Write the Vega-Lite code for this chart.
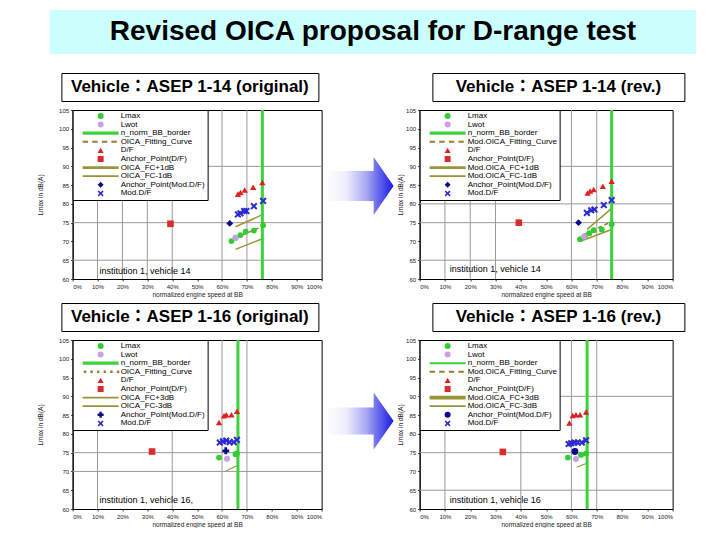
{
"$schema": "https://vega.github.io/schema/vega-lite/v6.json",
"padding": {"left": 37, "top": 10, "right": 0, "bottom": 0},
"background": "white",
"spacing": 18,
"center": true,
"resolve": {"scale": {"color": "independent", "shape": "independent", "size": "independent"}, "legend": {"color": "independent", "shape": "independent"}},
"datasets": {
"TL": [
{"k":"p","s":"Lmax","x":63.8,"y":70.1},{"k":"p","s":"Lmax","x":65.5,"y":71.0},{"k":"p","s":"Lmax","x":67.4,"y":71.7},{"k":"p","s":"Lmax","x":69.5,"y":72.6},{"k":"p","s":"Lmax","x":72.8,"y":72.9},{"k":"p","s":"Lmax","x":76.5,"y":74.3},
{"k":"p","s":"Lwot","x":65.4,"y":71.0},
{"k":"p","s":"D/F","x":66.4,"y":82.6},{"k":"p","s":"D/F","x":67.4,"y":83.0},{"k":"p","s":"D/F","x":69.1,"y":83.7},{"k":"p","s":"D/F","x":72.5,"y":84.4},{"k":"p","s":"D/F","x":76.2,"y":85.7},
{"k":"p","s":"Anchor_Point(D/F)","x":39.3,"y":74.7},
{"k":"p","s":"Anchor_Point(Mod.D/F)","x":63.1,"y":74.8},
{"k":"p","s":"Mod.D/F","x":66.4,"y":77.2},{"k":"p","s":"Mod.D/F","x":67.4,"y":77.5},{"k":"p","s":"Mod.D/F","x":68.9,"y":78.1},{"k":"p","s":"Mod.D/F","x":69.8,"y":78.1},{"k":"p","s":"Mod.D/F","x":72.8,"y":79.4},{"k":"p","s":"Mod.D/F","x":76.5,"y":80.8},
{"k":"l","s":"OICA_FC+1dB","x":65.4,"y":73.9},{"k":"l","s":"OICA_FC+1dB","x":76.5,"y":77.2},
{"k":"l","s":"OICA_FC-1dB","x":65.4,"y":67.9},{"k":"l","s":"OICA_FC-1dB","x":76.5,"y":70.8},
{"k":"d","s":"OICA_Fitting_Curve","x":65.4,"y":70.9},{"k":"d","s":"OICA_Fitting_Curve","x":76.5,"y":74.1},
{"k":"b","s":"n_norm_BB_border","x":76.2},
{"k":"t","x":10.8,"y":62.2,"t":"institution 1, vehicle 14"}
],
"gTL": [{"g":"x","v":10},{"g":"x","v":20},{"g":"x","v":30},{"g":"x","v":40},{"g":"x","v":60},{"g":"x","v":70},{"g":"y","v":65},{"g":"y","v":75},{"g":"y","v":90}],
"TR": [
{"k":"p","s":"Lmax","x":63.4,"y":70.6},{"k":"p","s":"Lmax","x":65.5,"y":71.5},{"k":"p","s":"Lmax","x":67.1,"y":72.2},{"k":"p","s":"Lmax","x":68.8,"y":73.0},{"k":"p","s":"Lmax","x":72.0,"y":73.2},{"k":"p","s":"Lmax","x":75.9,"y":74.6},
{"k":"p","s":"Lwot","x":65.1,"y":71.3},
{"k":"p","s":"D/F","x":66.4,"y":82.9},{"k":"p","s":"D/F","x":67.4,"y":83.4},{"k":"p","s":"D/F","x":68.8,"y":83.8},{"k":"p","s":"D/F","x":72.4,"y":84.7},{"k":"p","s":"D/F","x":75.9,"y":86.0},
{"k":"p","s":"Anchor_Point(D/F)","x":39.2,"y":75.0},
{"k":"p","s":"Anchor_Point(Mod.D/F)","x":62.8,"y":75.0},
{"k":"p","s":"Mod.D/F","x":66.1,"y":77.6},{"k":"p","s":"Mod.D/F","x":67.8,"y":78.3},{"k":"p","s":"Mod.D/F","x":69.1,"y":78.5},{"k":"p","s":"Mod.D/F","x":72.8,"y":79.7},{"k":"p","s":"Mod.D/F","x":75.9,"y":81.0},
{"k":"l","s":"Mod.OICA_FC+1dB","x":66.2,"y":73.2},{"k":"l","s":"Mod.OICA_FC+1dB","x":75.9,"y":78.8},
{"k":"l","s":"Mod.OICA_FC-1dB","x":63.8,"y":70.1},{"k":"l","s":"Mod.OICA_FC-1dB","x":75.9,"y":73.2},
{"k":"d","s":"Mod.OICA_Fitting_Curve","x":65.5,"y":72.0},{"k":"d","s":"Mod.OICA_Fitting_Curve","x":75.9,"y":75.3},
{"k":"b","s":"n_norm_BB_border","x":75.9},
{"k":"t","x":11.9,"y":62.7,"t":"institution 1, vehicle 14"}
],
"gTR": [{"g":"x","v":10},{"g":"x","v":20},{"g":"x","v":30},{"g":"x","v":60},{"g":"x","v":70},{"g":"y","v":65},{"g":"y","v":75},{"g":"y","v":80},{"g":"y","v":90}],
"BL": [
{"k":"p","s":"Lmax","x":58.8,"y":73.7},{"k":"p","s":"Lmax","x":65.4,"y":74.6},{"k":"p","s":"Lmax","x":66.0,"y":74.8},
{"k":"p","s":"Lwot","x":62.0,"y":73.4},
{"k":"p","s":"D/F","x":58.8,"y":83.0},{"k":"p","s":"D/F","x":60.8,"y":84.8},{"k":"p","s":"D/F","x":61.7,"y":85.1},{"k":"p","s":"D/F","x":63.8,"y":85.1},{"k":"p","s":"D/F","x":66.0,"y":86.0},
{"k":"p","s":"Anchor_Point(D/F)","x":31.9,"y":75.3},
{"k":"p","s":"Anchor_Point(Mod.D/F)","x":61.5,"y":75.5},
{"k":"p","s":"Mod.D/F","x":59.1,"y":77.7},{"k":"p","s":"Mod.D/F","x":60.4,"y":78.0},{"k":"p","s":"Mod.D/F","x":61.7,"y":78.2},{"k":"p","s":"Mod.D/F","x":63.1,"y":77.8},{"k":"p","s":"Mod.D/F","x":64.7,"y":77.8},{"k":"p","s":"Mod.D/F","x":66.0,"y":78.4},
{"k":"l","s":"OICA_FC-3dB","x":61.7,"y":70.2},{"k":"l","s":"OICA_FC-3dB","x":66.0,"y":71.5},
{"k":"b","s":"n_norm_BB_border","x":66.4},
{"k":"t","x":10.8,"y":62.5,"t":"institution 1, vehicle 16,"}
],
"gBL": [{"g":"x","v":10},{"g":"x","v":40},{"g":"x","v":60},{"g":"x","v":70},{"g":"y","v":70},{"g":"y","v":75}],
"BR": [
{"k":"p","s":"Lmax","x":58.6,"y":73.7},{"k":"p","s":"Lmax","x":63.8,"y":74.4},{"k":"p","s":"Lmax","x":65.8,"y":74.8},
{"k":"p","s":"Lwot","x":61.8,"y":73.3},
{"k":"p","s":"D/F","x":59.2,"y":82.9},{"k":"p","s":"D/F","x":60.5,"y":84.9},{"k":"p","s":"D/F","x":61.8,"y":85.1},{"k":"p","s":"D/F","x":63.4,"y":85.1},{"k":"p","s":"D/F","x":65.8,"y":85.8},
{"k":"p","s":"Anchor_Point(D/F)","x":32.9,"y":75.2},
{"k":"p","s":"Anchor_Point(Mod.D/F)","x":61.4,"y":75.3},
{"k":"p","s":"Mod.D/F","x":58.9,"y":77.3},{"k":"p","s":"Mod.D/F","x":59.9,"y":77.5},{"k":"p","s":"Mod.D/F","x":61.2,"y":77.7},{"k":"p","s":"Mod.D/F","x":62.5,"y":77.7},{"k":"p","s":"Mod.D/F","x":64.1,"y":77.7},{"k":"p","s":"Mod.D/F","x":65.8,"y":78.3},
{"k":"l","s":"Mod.OICA_FC-3dB","x":62.1,"y":71.1},{"k":"l","s":"Mod.OICA_FC-3dB","x":65.8,"y":72.1},
{"k":"b","s":"n_norm_BB_border","x":66.2},
{"k":"t","x":11.9,"y":62.3,"t":"institution 1, vehicle 16"}
],
"gBR": [{"g":"x","v":10},{"g":"x","v":40},{"g":"x","v":60},{"g":"x","v":70},{"g":"y","v":65},{"g":"y","v":75},{"g":"y","v":90}]
},
"vconcat": [
{"width": 646, "height": 44, "view": {"fill": "#CCFFFF", "stroke": null},
 "data": {"values": [{"t": "Revised OICA proposal for D-range test"}]},
 "mark": {"type": "text", "fontSize": 28, "fontWeight": "bold", "font": "Liberation Sans", "color": "black", "baseline": "middle", "align": "center"},
 "encoding": {"text": {"field": "t"}}},
{"spacing": 4, "center": true,
 "resolve": {"scale": {"color": "independent", "shape": "independent", "size": "independent"}, "legend": {"color": "independent", "shape": "independent"}},
 "vconcat": [
 {"spacing": 112, "hconcat": [
  {"width": 257, "height": 28, "view": {"stroke": "black", "strokeWidth": 1, "fill": "white"},
   "data": {"values": [{"t": "Vehicle：ASEP 1-14 (original)"}]},
   "mark": {"type": "text", "fontSize": 17, "fontWeight": "bold", "font": "Liberation Sans, Noto Sans CJK JP", "color": "black", "baseline": "middle", "align": "center"},
   "encoding": {"text": {"field": "t"}}},
  {"width": 252, "height": 28, "view": {"stroke": "black", "strokeWidth": 1, "fill": "white"},
   "data": {"values": [{"t": "Vehicle：ASEP 1-14 (rev.)"}]},
   "mark": {"type": "text", "fontSize": 17, "fontWeight": "bold", "font": "Liberation Sans, Noto Sans CJK JP", "color": "black", "baseline": "middle", "align": "center"},
   "encoding": {"text": {"field": "t"}}}
 ]},
 {"spacing": 3,
  "resolve": {"scale": {"color": "independent", "shape": "independent", "size": "independent"}, "legend": {"color": "independent", "shape": "independent"}},
  "hconcat": [
  {"width": 249, "height": 169, "data": {"name": "TL"},
   "layer": [
    {"data": {"name": "gTL"}, "transform": [{"filter": "datum.g == 'x'"}], "mark": {"type": "rule", "color": "#999999", "strokeWidth": 1}, "encoding": {"x": {"field": "v", "type": "quantitative", "title": "normalized engine speed at BB", "scale": {"domain": [0,100], "nice": false}}}},
    {"data": {"name": "gTL"}, "transform": [{"filter": "datum.g == 'y'"}], "mark": {"type": "rule", "color": "#999999", "strokeWidth": 1}, "encoding": {"y": {"field": "v", "type": "quantitative", "title": "Lmax in dB(A)", "scale": {"domain": [60,105], "nice": false}}}},
    {"transform": [{"filter": "datum.k == 'l'"}], "mark": {"type": "line", "strokeWidth": 1.5, "color": "#9A9436"}, "encoding": {
      "x": {"field": "x", "type": "quantitative", "title": "normalized engine speed at BB", "scale": {"domain": [0,100], "nice": false}},
      "y": {"field": "y", "type": "quantitative", "title": "Lmax in dB(A)", "scale": {"domain": [60,105], "nice": false}},
      "detail": {"field": "s"}}},
    {"transform": [{"filter": "datum.k == 'd'"}], "mark": {"type": "line", "strokeWidth": 1.5, "strokeDash": [4,3], "color": "#9C7A30"}, "encoding": {
      "x": {"field": "x", "type": "quantitative", "title": "normalized engine speed at BB", "scale": {"domain": [0,100], "nice": false}},
      "y": {"field": "y", "type": "quantitative", "title": "Lmax in dB(A)", "scale": {"domain": [60,105], "nice": false}}}},
    {"transform": [{"filter": "datum.k == 'b'"}], "mark": {"type": "rule", "strokeWidth": 3, "color": "#3BD33B"}, "encoding": {
      "x": {"field": "x", "type": "quantitative", "title": "normalized engine speed at BB", "scale": {"domain": [0,100], "nice": false}}}},
    {"transform": [{"filter": "datum.k == 'p'"}], "mark": {"type": "point", "filled": true, "opacity": 1, "strokeWidth": 0}, "encoding": {
      "x": {"field": "x", "type": "quantitative", "title": "normalized engine speed at BB", "scale": {"domain": [0,100], "nice": false}},
      "y": {"field": "y", "type": "quantitative", "title": "Lmax in dB(A)", "scale": {"domain": [60,105], "nice": false}, "axis": {"titlePadding": 15}},
      "color": {"field": "s", "type": "nominal", "legend": {"title": null}, "scale": {"domain": ["Lmax","Lwot","n_norm_BB_border","OICA_Fitting_Curve","D/F","Anchor_Point(D/F)","OICA_FC+1dB","OICA_FC-1dB","Anchor_Point(Mod.D/F)","Mod.D/F"], "range": ["#33CC33","#C9A0E6","#3BD33B","#9C7A30","#E02020","#DD2B2B","#9A9436","#9A9436","#0A0A8C","#2B2BD0"]}},
      "shape": {"field": "s", "type": "nominal", "legend": {"title": null}, "scale": {"domain": ["Lmax","Lwot","n_norm_BB_border","OICA_Fitting_Curve","D/F","Anchor_Point(D/F)","OICA_FC+1dB","OICA_FC-1dB","Anchor_Point(Mod.D/F)","Mod.D/F"], "range": ["circle","circle","M-6,-0.55L6,-0.55L6,0.55L-6,0.55Z","M-6,-0.35L-4.2,-0.35L-4.2,0.35L-6,0.35Z M-2.8,-0.35L-1,-0.35L-1,0.35L-2.8,0.35Z M0.4,-0.35L2.2,-0.35L2.2,0.35L0.4,0.35Z M3.6,-0.35L5.4,-0.35L5.4,0.35L3.6,0.35Z","triangle-up","square","M-6,-0.45L6,-0.45L6,0.45L-6,0.45Z","M-6,-0.3L6,-0.3L6,0.3L-6,0.3Z","diamond","M-1,-0.6L-0.6,-1L0,-0.4L0.6,-1L1,-0.6L0.4,0L1,0.6L0.6,1L0,0.4L-0.6,1L-1,0.6L-0.4,0Z"]}},
      "size": {"field": "s", "type": "nominal", "legend": null, "scale": {"domain": ["Lmax","Lwot","D/F","Anchor_Point(D/F)","Anchor_Point(Mod.D/F)","Mod.D/F"], "range": [34,50,22,64,45,30]}}}},
    {"transform": [{"filter": "datum.k == 't'"}], "mark": {"type": "text", "align": "left", "baseline": "middle", "fontSize": 9, "font": "Liberation Sans", "color": "black"}, "encoding": {
      "x": {"field": "x", "type": "quantitative", "title": "normalized engine speed at BB", "scale": {"domain": [0,100], "nice": false}},
      "y": {"field": "y", "type": "quantitative", "title": "Lmax in dB(A)", "scale": {"domain": [60,105], "nice": false}},
      "text": {"field": "t"}}}
   ]},
  {"width": 68, "height": 152, "view": {"stroke": null}, "data": {"values": [{"a": 1}]},
   "mark": {"type": "point", "shape": "M-1.133,-0.5L0.467,-0.5L0.467,-0.967L1.133,0L0.467,0.967L0.467,0.5L-1.133,0.5Z", "size": 3600, "filled": true, "opacity": 1, "strokeWidth": 0,
     "fill": {"gradient": "linear", "x1": 0, "y1": 0, "x2": 1, "y2": 0, "stops": [{"offset": 0, "color": "#FFFFFF"}, {"offset": 0.3, "color": "#EEEEFD"}, {"offset": 0.6, "color": "#A8A8F4"}, {"offset": 0.75, "color": "#7070EE"}, {"offset": 1, "color": "#1A1AE6"}]}},
   "encoding": {}},
  {"width": 253, "height": 169, "data": {"name": "TR"},
   "layer": [
    {"data": {"name": "gTR"}, "transform": [{"filter": "datum.g == 'x'"}], "mark": {"type": "rule", "color": "#999999", "strokeWidth": 1}, "encoding": {"x": {"field": "v", "type": "quantitative", "title": "normalized engine speed at BB", "scale": {"domain": [0,100], "nice": false}}}},
    {"data": {"name": "gTR"}, "transform": [{"filter": "datum.g == 'y'"}], "mark": {"type": "rule", "color": "#999999", "strokeWidth": 1}, "encoding": {"y": {"field": "v", "type": "quantitative", "title": "Lmax in dB(A)", "scale": {"domain": [60,105], "nice": false}}}},
    {"transform": [{"filter": "datum.k == 'l'"}], "mark": {"type": "line", "strokeWidth": 1.5, "color": "#9A9436"}, "encoding": {
      "x": {"field": "x", "type": "quantitative", "title": "normalized engine speed at BB", "scale": {"domain": [0,100], "nice": false}},
      "y": {"field": "y", "type": "quantitative", "title": "Lmax in dB(A)", "scale": {"domain": [60,105], "nice": false}},
      "detail": {"field": "s"}}},
    {"transform": [{"filter": "datum.k == 'd'"}], "mark": {"type": "line", "strokeWidth": 1.5, "strokeDash": [4,3], "color": "#9C7A30"}, "encoding": {
      "x": {"field": "x", "type": "quantitative", "title": "normalized engine speed at BB", "scale": {"domain": [0,100], "nice": false}},
      "y": {"field": "y", "type": "quantitative", "title": "Lmax in dB(A)", "scale": {"domain": [60,105], "nice": false}}}},
    {"transform": [{"filter": "datum.k == 'b'"}], "mark": {"type": "rule", "strokeWidth": 3, "color": "#3BD33B"}, "encoding": {
      "x": {"field": "x", "type": "quantitative", "title": "normalized engine speed at BB", "scale": {"domain": [0,100], "nice": false}}}},
    {"transform": [{"filter": "datum.k == 'p'"}], "mark": {"type": "point", "filled": true, "opacity": 1, "strokeWidth": 0}, "encoding": {
      "x": {"field": "x", "type": "quantitative", "title": "normalized engine speed at BB", "scale": {"domain": [0,100], "nice": false}},
      "y": {"field": "y", "type": "quantitative", "title": "Lmax in dB(A)", "scale": {"domain": [60,105], "nice": false}},
      "color": {"field": "s", "type": "nominal", "legend": {"title": null}, "scale": {"domain": ["Lmax","Lwot","n_norm_BB_border","Mod.OICA_Fitting_Curve","D/F","Anchor_Point(D/F)","Mod.OICA_FC+1dB","Mod.OICA_FC-1dB","Anchor_Point(Mod.D/F)","Mod.D/F"], "range": ["#33CC33","#C9A0E6","#3BD33B","#9C7A30","#E02020","#DD2B2B","#9A9436","#9A9436","#0A0A8C","#2B2BD0"]}},
      "shape": {"field": "s", "type": "nominal", "legend": {"title": null}, "scale": {"domain": ["Lmax","Lwot","n_norm_BB_border","Mod.OICA_Fitting_Curve","D/F","Anchor_Point(D/F)","Mod.OICA_FC+1dB","Mod.OICA_FC-1dB","Anchor_Point(Mod.D/F)","Mod.D/F"], "range": ["circle","circle","M-6,-0.55L6,-0.55L6,0.55L-6,0.55Z","M-6,-0.35L-4.2,-0.35L-4.2,0.35L-6,0.35Z M-2.8,-0.35L-1,-0.35L-1,0.35L-2.8,0.35Z M0.4,-0.35L2.2,-0.35L2.2,0.35L0.4,0.35Z M3.6,-0.35L5.4,-0.35L5.4,0.35L3.6,0.35Z","triangle-up","square","M-6,-0.45L6,-0.45L6,0.45L-6,0.45Z","M-6,-0.3L6,-0.3L6,0.3L-6,0.3Z","diamond","M-1,-0.6L-0.6,-1L0,-0.4L0.6,-1L1,-0.6L0.4,0L1,0.6L0.6,1L0,0.4L-0.6,1L-1,0.6L-0.4,0Z"]}},
      "size": {"field": "s", "type": "nominal", "legend": null, "scale": {"domain": ["Lmax","Lwot","D/F","Anchor_Point(D/F)","Anchor_Point(Mod.D/F)","Mod.D/F"], "range": [34,50,22,64,45,30]}}}},
    {"transform": [{"filter": "datum.k == 't'"}], "mark": {"type": "text", "align": "left", "baseline": "middle", "fontSize": 9, "font": "Liberation Sans", "color": "black"}, "encoding": {
      "x": {"field": "x", "type": "quantitative", "title": "normalized engine speed at BB", "scale": {"domain": [0,100], "nice": false}},
      "y": {"field": "y", "type": "quantitative", "title": "Lmax in dB(A)", "scale": {"domain": [60,105], "nice": false}},
      "text": {"field": "t"}}}
   ]}
 ]},
 {"spacing": 112, "hconcat": [
  {"width": 257, "height": 28, "view": {"stroke": "black", "strokeWidth": 1, "fill": "white"},
   "data": {"values": [{"t": "Vehicle：ASEP 1-16 (original)"}]},
   "mark": {"type": "text", "fontSize": 17, "fontWeight": "bold", "font": "Liberation Sans, Noto Sans CJK JP", "color": "black", "baseline": "middle", "align": "center"},
   "encoding": {"text": {"field": "t"}}},
  {"width": 252, "height": 28, "view": {"stroke": "black", "strokeWidth": 1, "fill": "white"},
   "data": {"values": [{"t": "Vehicle：ASEP 1-16 (rev.)"}]},
   "mark": {"type": "text", "fontSize": 17, "fontWeight": "bold", "font": "Liberation Sans, Noto Sans CJK JP", "color": "black", "baseline": "middle", "align": "center"},
   "encoding": {"text": {"field": "t"}}}
 ]},
 {"spacing": 3,
  "resolve": {"scale": {"color": "independent", "shape": "independent", "size": "independent"}, "legend": {"color": "independent", "shape": "independent"}},
  "hconcat": [
  {"width": 249, "height": 169, "data": {"name": "BL"},
   "layer": [
    {"data": {"name": "gBL"}, "transform": [{"filter": "datum.g == 'x'"}], "mark": {"type": "rule", "color": "#999999", "strokeWidth": 1}, "encoding": {"x": {"field": "v", "type": "quantitative", "title": "normalized engine speed at BB", "scale": {"domain": [0,100], "nice": false}}}},
    {"data": {"name": "gBL"}, "transform": [{"filter": "datum.g == 'y'"}], "mark": {"type": "rule", "color": "#999999", "strokeWidth": 1}, "encoding": {"y": {"field": "v", "type": "quantitative", "title": "Lmax in dB(A)", "scale": {"domain": [60,105], "nice": false}}}},
    {"transform": [{"filter": "datum.k == 'l'"}], "mark": {"type": "line", "strokeWidth": 1.2, "color": "#9A9436"}, "encoding": {
      "x": {"field": "x", "type": "quantitative", "title": "normalized engine speed at BB", "scale": {"domain": [0,100], "nice": false}},
      "y": {"field": "y", "type": "quantitative", "title": "Lmax in dB(A)", "scale": {"domain": [60,105], "nice": false}},
      "detail": {"field": "s"}}},
    {"transform": [{"filter": "datum.k == 'b'"}], "mark": {"type": "rule", "strokeWidth": 3, "color": "#3BD33B"}, "encoding": {
      "x": {"field": "x", "type": "quantitative", "title": "normalized engine speed at BB", "scale": {"domain": [0,100], "nice": false}}}},
    {"transform": [{"filter": "datum.k == 'p'"}], "mark": {"type": "point", "filled": true, "opacity": 1, "strokeWidth": 0}, "encoding": {
      "x": {"field": "x", "type": "quantitative", "title": "normalized engine speed at BB", "scale": {"domain": [0,100], "nice": false}},
      "y": {"field": "y", "type": "quantitative", "title": "Lmax in dB(A)", "scale": {"domain": [60,105], "nice": false}, "axis": {"titlePadding": 15}},
      "color": {"field": "s", "type": "nominal", "legend": {"title": null}, "scale": {"domain": ["Lmax","Lwot","n_norm_BB_border","OICA_Fitting_Curve","D/F","Anchor_Point(D/F)","OICA_FC+3dB","OICA_FC-3dB","Anchor_Point(Mod.D/F)","Mod.D/F"], "range": ["#33CC33","#C9A0E6","#3BD33B","#9C7A30","#E02020","#DD2B2B","#9A9436","#9A9436","#0A0A8C","#2B2BD0"]}},
      "shape": {"field": "s", "type": "nominal", "legend": {"title": null}, "scale": {"domain": ["Lmax","Lwot","n_norm_BB_border","OICA_Fitting_Curve","D/F","Anchor_Point(D/F)","OICA_FC+3dB","OICA_FC-3dB","Anchor_Point(Mod.D/F)","Mod.D/F"], "range": ["circle","circle","M-6,-0.55L6,-0.55L6,0.55L-6,0.55Z","M-5.6,-0.4L-4.8,-0.4L-4.8,0.4L-5.6,0.4Z M-3.4,-0.4L-2.6,-0.4L-2.6,0.4L-3.4,0.4Z M-1.2,-0.4L-0.4,-0.4L-0.4,0.4L-1.2,0.4Z M1,-0.4L1.8,-0.4L1.8,0.4L1,0.4Z M3.2,-0.4L4,-0.4L4,0.4L3.2,0.4Z M5.4,-0.4L6.2,-0.4L6.2,0.4L5.4,0.4Z","triangle-up","square","M-6,-0.3L6,-0.3L6,0.3L-6,0.3Z","M-6,-0.3L6,-0.3L6,0.3L-6,0.3Z","cross","M-1,-0.6L-0.6,-1L0,-0.4L0.6,-1L1,-0.6L0.4,0L1,0.6L0.6,1L0,0.4L-0.6,1L-1,0.6L-0.4,0Z"]}},
      "size": {"field": "s", "type": "nominal", "legend": null, "scale": {"domain": ["Lmax","Lwot","D/F","Anchor_Point(D/F)","Anchor_Point(Mod.D/F)","Mod.D/F"], "range": [34,50,22,64,45,30]}}}},
    {"transform": [{"filter": "datum.k == 't'"}], "mark": {"type": "text", "align": "left", "baseline": "middle", "fontSize": 9, "font": "Liberation Sans", "color": "black"}, "encoding": {
      "x": {"field": "x", "type": "quantitative", "title": "normalized engine speed at BB", "scale": {"domain": [0,100], "nice": false}},
      "y": {"field": "y", "type": "quantitative", "title": "Lmax in dB(A)", "scale": {"domain": [60,105], "nice": false}},
      "text": {"field": "t"}}}
   ]},
  {"width": 68, "height": 162, "view": {"stroke": null}, "data": {"values": [{"a": 1}]},
   "mark": {"type": "point", "shape": "M-1.133,-0.45L0.467,-0.45L0.467,-0.95L1.133,0L0.467,0.95L0.467,0.45L-1.133,0.45Z", "size": 3600, "filled": true, "opacity": 1, "strokeWidth": 0,
     "fill": {"gradient": "linear", "x1": 0, "y1": 0, "x2": 1, "y2": 0, "stops": [{"offset": 0, "color": "#FFFFFF"}, {"offset": 0.3, "color": "#EEEEFD"}, {"offset": 0.6, "color": "#A8A8F4"}, {"offset": 0.75, "color": "#7070EE"}, {"offset": 1, "color": "#1A1AE6"}]}},
   "encoding": {}},
  {"width": 253, "height": 169, "data": {"name": "BR"},
   "layer": [
    {"data": {"name": "gBR"}, "transform": [{"filter": "datum.g == 'x'"}], "mark": {"type": "rule", "color": "#999999", "strokeWidth": 1}, "encoding": {"x": {"field": "v", "type": "quantitative", "title": "normalized engine speed at BB", "scale": {"domain": [0,100], "nice": false}}}},
    {"data": {"name": "gBR"}, "transform": [{"filter": "datum.g == 'y'"}], "mark": {"type": "rule", "color": "#999999", "strokeWidth": 1}, "encoding": {"y": {"field": "v", "type": "quantitative", "title": "Lmax in dB(A)", "scale": {"domain": [60,105], "nice": false}}}},
    {"transform": [{"filter": "datum.k == 'l'"}], "mark": {"type": "line", "strokeWidth": 1.2, "color": "#9A9436"}, "encoding": {
      "x": {"field": "x", "type": "quantitative", "title": "normalized engine speed at BB", "scale": {"domain": [0,100], "nice": false}},
      "y": {"field": "y", "type": "quantitative", "title": "Lmax in dB(A)", "scale": {"domain": [60,105], "nice": false}},
      "detail": {"field": "s"}}},
    {"transform": [{"filter": "datum.k == 'b'"}], "mark": {"type": "rule", "strokeWidth": 3, "color": "#3BD33B"}, "encoding": {
      "x": {"field": "x", "type": "quantitative", "title": "normalized engine speed at BB", "scale": {"domain": [0,100], "nice": false}}}},
    {"transform": [{"filter": "datum.k == 'p'"}], "mark": {"type": "point", "filled": true, "opacity": 1, "strokeWidth": 0}, "encoding": {
      "x": {"field": "x", "type": "quantitative", "title": "normalized engine speed at BB", "scale": {"domain": [0,100], "nice": false}},
      "y": {"field": "y", "type": "quantitative", "title": "Lmax in dB(A)", "scale": {"domain": [60,105], "nice": false}},
      "color": {"field": "s", "type": "nominal", "legend": {"title": null}, "scale": {"domain": ["Lmax","Lwot","n_norm_BB_border","Mod.OICA_Fitting_Curve","D/F","Anchor_Point(D/F)","Mod.OICA_FC+3dB","Mod.OICA_FC-3dB","Anchor_Point(Mod.D/F)","Mod.D/F"], "range": ["#33CC33","#C9A0E6","#3BD33B","#9C7A30","#E02020","#DD2B2B","#9A9436","#9A9436","#0A0A8C","#2B2BD0"]}},
      "shape": {"field": "s", "type": "nominal", "legend": {"title": null}, "scale": {"domain": ["Lmax","Lwot","n_norm_BB_border","Mod.OICA_Fitting_Curve","D/F","Anchor_Point(D/F)","Mod.OICA_FC+3dB","Mod.OICA_FC-3dB","Anchor_Point(Mod.D/F)","Mod.D/F"], "range": ["circle","circle","M-6,-0.35L6,-0.35L6,0.35L-6,0.35Z","M-6,-0.35L-4.2,-0.35L-4.2,0.35L-6,0.35Z M-2.8,-0.35L-1,-0.35L-1,0.35L-2.8,0.35Z M0.4,-0.35L2.2,-0.35L2.2,0.35L0.4,0.35Z M3.6,-0.35L5.4,-0.35L5.4,0.35L3.6,0.35Z","triangle-up","square","M-6,-0.6L6,-0.6L6,0.6L-6,0.6Z","M-6,-0.3L6,-0.3L6,0.3L-6,0.3Z","circle","M-1,-0.6L-0.6,-1L0,-0.4L0.6,-1L1,-0.6L0.4,0L1,0.6L0.6,1L0,0.4L-0.6,1L-1,0.6L-0.4,0Z"]}},
      "size": {"field": "s", "type": "nominal", "legend": null, "scale": {"domain": ["Lmax","Lwot","D/F","Anchor_Point(D/F)","Anchor_Point(Mod.D/F)","Mod.D/F"], "range": [34,50,22,64,45,30]}}}},
    {"transform": [{"filter": "datum.k == 't'"}], "mark": {"type": "text", "align": "left", "baseline": "middle", "fontSize": 9, "font": "Liberation Sans", "color": "black"}, "encoding": {
      "x": {"field": "x", "type": "quantitative", "title": "normalized engine speed at BB", "scale": {"domain": [0,100], "nice": false}},
      "y": {"field": "y", "type": "quantitative", "title": "Lmax in dB(A)", "scale": {"domain": [60,105], "nice": false}},
      "text": {"field": "t"}}}
   ]}
 ]}
]}
],
"config": {
 "view": {"stroke": "black", "strokeWidth": 1},
 "font": "Liberation Sans",
 "axis": {"labelFontSize": 6, "titleFontSize": 6.5, "titleFontWeight": "normal", "labelColor": "#222222", "titleColor": "#222222", "tickSize": 2, "tickColor": "#333333", "domainColor": "black", "labelPadding": 2, "titlePadding": 2, "grid": false, "tickCount": 10, "labelFont": "Liberation Sans", "titleFont": "Liberation Sans"},
 "axisX": {"labelExpr": "datum.value + '%'"},
 "legend": {"orient": "top-left", "offset": 0, "padding": 2, "fillColor": "white", "strokeColor": "black", "symbolSize": 36, "symbolOffset": 22, "labelOffset": 16, "labelFontSize": 8, "labelFont": "Liberation Sans", "labelColor": "black", "rowPadding": 0.6, "symbolStrokeWidth": 0, "labelLimit": 300}
}
}
